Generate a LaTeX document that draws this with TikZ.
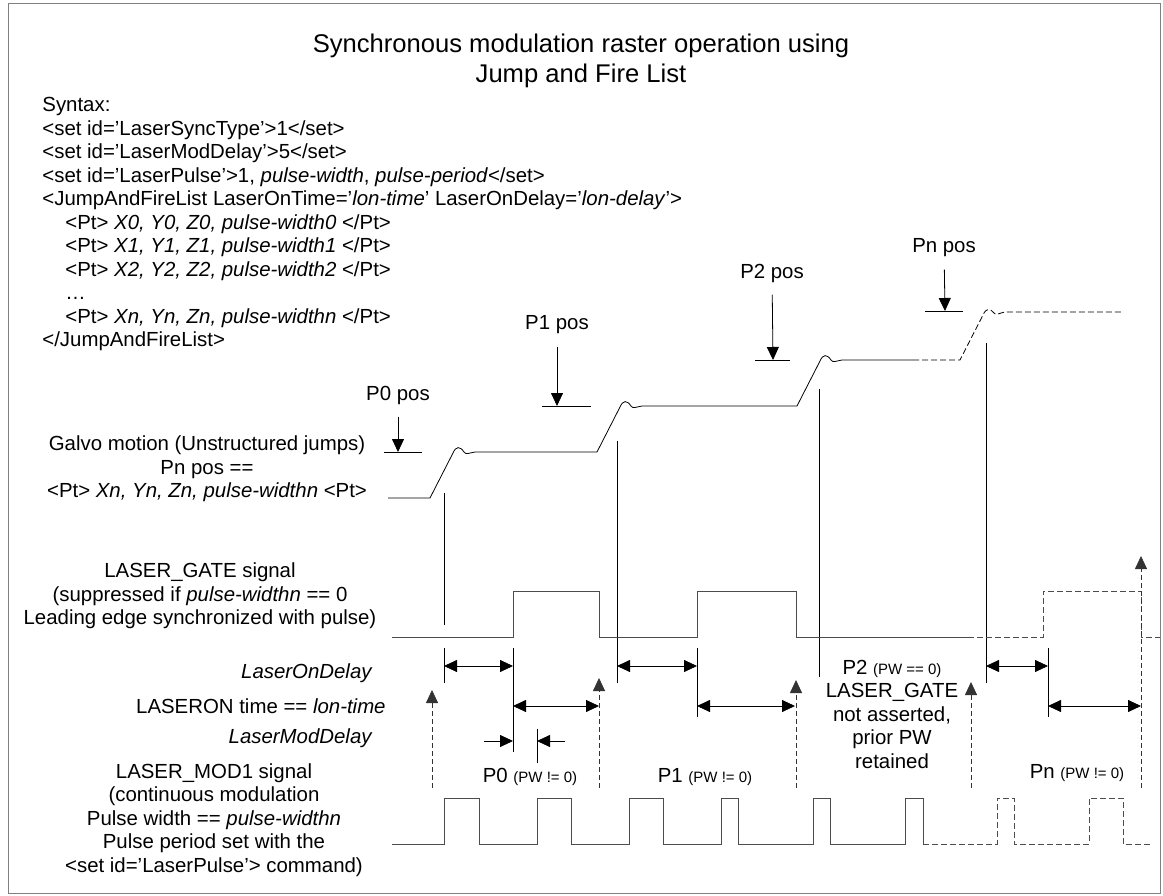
\documentclass[tikz,border=0pt]{standalone}
\usepackage{fontspec}
\setmainfont{Liberation Sans}
\usetikzlibrary{arrows.meta}

\newcommand{\pwnote}[1]{{\fontsize{15}{18}\selectfont #1}}

\begin{document}
\begin{tikzpicture}[x=1pt, y=-1pt, line width=0.8pt,
    font=\fontsize{20.4}{23.5}\selectfont,
    sig/.style={draw=black!70},
    later/.style={dash pattern=on 6pt off 3pt},
    ptr/.style={-{Triangle[length=13pt,width=12pt]}},
    span/.style={{Triangle[length=13pt,width=12pt]}-{Triangle[length=13pt,width=12pt]}},
    laseron/.style={draw=black!80, dash pattern=on 5pt off 3pt, -{Triangle[length=13pt,width=12pt]}},
    lbl/.style={inner sep=0pt, align=center}]
\useasboundingbox (0,0) rectangle (1163,896);

% Frame
\draw[black!50] (8,3) rectangle (1160,893);

% Title
\node[lbl, font=\fontsize{25.6}{29.5}\selectfont] (title) at (581,61)
  {Synchronous modulation raster operation using\\Jump and Fire List};

% Syntax
\node[lbl, align=left, anchor=west] (syntax) at (42,224)
  {Syntax:\\
   <set id=’LaserSyncType’>1</set>\\
   <set id=’LaserModDelay’>5</set>\\
   <set id=’LaserPulse’>1, \textit{pulse-width}, \textit{pulse-period}</set>\\
   <JumpAndFireList LaserOnTime=’\textit{lon-time}’ LaserOnDelay=’\textit{lon-delay}’>\\
   \hspace*{23pt}<Pt> \textit{X0, Y0, Z0, pulse-width0} </Pt>\\
   \hspace*{23pt}<Pt> \textit{X1, Y1, Z1, pulse-width1} </Pt>\\
   \hspace*{23pt}<Pt> \textit{X2, Y2, Z2, pulse-width2} </Pt>\\
   \hspace*{23pt}…\\
   \hspace*{23pt}<Pt> \textit{Xn, Yn, Zn, pulse-widthn} </Pt>\\
   </JumpAndFireList>};

% Row labels
\node[lbl] (galvo) at (207,469)
  {Galvo motion (Unstructured jumps)\\Pn pos ==\\<Pt> \textit{Xn, Yn, Zn, pulse-widthn} <Pt>};
\node[lbl] (gate) at (200,596)
  {LASER\_GATE signal\\(suppressed if \textit{pulse-widthn} == 0\\Leading edge synchronized with pulse)};
\node[lbl, anchor=east] (ondelay) at (373,673) {\textit{LaserOnDelay}};
\node[lbl, anchor=east] (ontime) at (386,706) {LASERON time == \textit{lon-time}};
\node[lbl, anchor=east] (moddelay) at (373,738) {\textit{LaserModDelay}};
\node[lbl] (mod) at (214,820)
  {LASER\_MOD1 signal\\(continuous modulation\\Pulse width == \textit{pulse-widthn}\\Pulse period set with the\\<set id=’LaserPulse’> command)};

% Position labels
\node[lbl] (p0pos) at (398,395) {P0 pos};
\node[lbl] (p1pos) at (557,325) {P1 pos};
\node[lbl] (p2pos) at (772,273) {P2 pos};
\node[lbl] (pnpos) at (944,248) {Pn pos};
\coordinate (p0bar) at (398,452);
\coordinate (p1bar) at (557,406);
\coordinate (p2bar) at (773,360);
\coordinate (pnbar) at (945,311);
\draw[ptr, shorten <=12pt] (p0pos) -- (p0bar);
\draw[ptr, shorten <=12pt] (p1pos) -- (p1bar);
\draw[ptr, shorten <=12pt] (p2pos) -- (p2bar);
\draw[ptr, shorten <=12pt] (pnpos) -- (pnbar);
\draw (384,452) -- (422,452);
\draw (542,406) -- (591,406);
\draw (755,360) -- (790,360);
\draw (925,311) -- (963,311);

% Galvo motion
\draw (388,498) -- (430,498) -- (453,453)
  .. controls (456,446) and (460,446) .. (464,452)
  .. controls (466,455) and (469,453) .. (475,452) -- (597,452) -- (620,407)
  .. controls (623,400) and (627,400) .. (631,406)
  .. controls (633,409) and (636,407) .. (642,406) -- (797,406) -- (820,361)
  .. controls (823,354) and (827,354) .. (831,360)
  .. controls (833,363) and (836,361) .. (842,360) -- (913,360);
\draw[later] (913,360) -- (960,360) -- (983,315)
  .. controls (986,308) and (990,308) .. (994,313)
  .. controls (996,316) and (999,313) .. (1005,312) -- (1123,312);

% Time markers
\draw (444,493) -- (444,625);
\draw (617,441) -- (617,683);
\draw (819,389) -- (819,677);
\draw (986,343) -- (986,683);
\draw (444,648) -- (444,683);
\draw (513,648) -- (513,752);
\draw (697,648) -- (697,717);
\draw (1048,648) -- (1048,717);
\draw (537,729) -- (537,763);

% LASER_GATE
\draw[sig] (392,637) -- (513,637) -- (513,591) -- (599,591) -- (599,637)
  -- (697,637) -- (697,591) -- (796,591) -- (796,637) -- (968,637);
\draw[sig, later] (968,637) -- (1043,637) -- (1043,591) -- (1141,591)
  -- (1141,637) -- (1160,637);

% Delays and on times
\draw[span] (444,666) -- (513,666);
\draw[span] (617,666) -- (697,666);
\draw[span] (986,666) -- (1048,666);
\draw[span] (513,706) -- (599,706);
\draw[span] (697,706) -- (795,706);
\draw[span] (1048,706) -- (1141,706);
\draw[ptr] (484,741) -- (513,741);
\draw[ptr] (565,741) -- (537,741);

% LASERON start and end
\draw[laseron] (432,788) -- (432,690);
\draw[laseron] (599,788) -- (599,678);
\draw[laseron] (796,788) -- (796,680);
\draw[laseron] (971,788) -- (971,682);
\draw[laseron] (1141,788) -- (1141,556);

% Pulse notes
\node[lbl] (p0note) at (530,777) {P0 \pwnote{(PW != 0)}};
\node[lbl] (p1note) at (705,777) {P1 \pwnote{(PW != 0)}};
\node[lbl] (p2note) at (892,714)
  {P2 \pwnote{(PW == 0)}\\LASER\_GATE\\not asserted,\\prior PW\\retained};
\node[lbl] (pnnote) at (1077,773) {Pn \pwnote{(PW != 0)}};

% LASER_MOD1
\draw[sig] (392,844) -- (444,844) -- (444,798) -- (479,798) -- (479,844)
  -- (537,844) -- (537,798) -- (571,798) -- (571,844)
  -- (629,844) -- (629,798) -- (663,798) -- (663,844)
  -- (721,844) -- (721,798) -- (738,798) -- (738,844)
  -- (813,844) -- (813,798) -- (830,798) -- (830,844)
  -- (905,844) -- (905,798) -- (923,798) -- (923,844);
\draw[sig, later] (923,844) -- (997,844) -- (997,798) -- (1014,798) -- (1014,844)
  -- (1089,844) -- (1089,798) -- (1123,798) -- (1123,844) -- (1152,844);
\end{tikzpicture}
\end{document}
